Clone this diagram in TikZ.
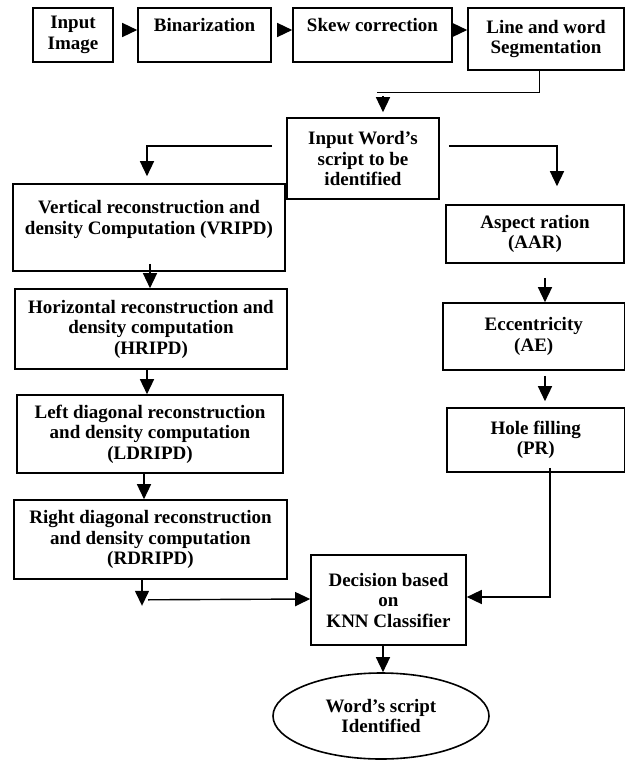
\documentclass[tikz,border=0pt]{standalone}
\usepackage{fontspec}
\setmainfont{Liberation Serif}
\usetikzlibrary{arrows.meta,shapes.geometric}

\begin{document}
\begin{tikzpicture}[x=1pt,y=1pt]
\tikzstyle{every node}+=[inner sep=0pt]
\tikzstyle{blk}=[draw, line width=1.6pt, align=center, font=\fontsize{19}{20.5}\selectfont\bfseries]
\tikzstyle{lin}=[line width=1.4pt]
\tikzstyle{arr}=[line width=1.4pt, -{Triangle[length=15pt,width=14pt]}]
\useasboundingbox (0,0) rectangle (626,-760);
% top row
\draw (73,-35) node [blk, minimum width=80, minimum height=54] (inimg) {Input\\Image};
\draw (204.5,-35) node [blk, minimum width=133, minimum height=54] (binar) {Binarization\\~};
\draw (372.5,-35) node [blk, minimum width=159, minimum height=54] (skew) {Skew correction\\~};
\draw (546,-39) node [blk, minimum width=156, minimum height=62] (lineseg) {Line and word\\Segmentation};
\draw (363,-158.5) node [blk, minimum width=152, minimum height=81] (inword) {Input Word's\\script to be\\identified};
% left column
\draw (149,-227.5) node [blk, minimum width=272, minimum height=87] (vert) {Vertical reconstruction and\\density Computation (VRIPD)\\~};
\draw (151,-329) node [blk, minimum width=272, minimum height=80] (horiz) {Horizontal reconstruction and\\density computation\\(HRIPD)};
\draw (150,-434) node [blk, minimum width=266, minimum height=78] (ldiag) {Left diagonal reconstruction\\and density computation\\(LDRIPD)};
\draw (150.5,-539.5) node [blk, minimum width=273, minimum height=79] (rdiag) {Right diagonal reconstruction\\and density computation\\(RDRIPD)};
% right column
\draw (535,-234) node [blk, minimum width=178, minimum height=58] (aspect) {Aspect ration\\(AAR)};
\draw (533.75,-336.5) node [blk, minimum width=181.5, minimum height=67] (eccen) {Eccentricity\\(AE)};
\draw (535.75,-440) node [blk, minimum width=177.5, minimum height=64] (hole) {Hole filling\\(PR)};
% classifier and result
\draw (388.5,-600) node [blk, minimum width=155, minimum height=90] (decis) {Decision based\\on\\KNN Classifier};
\draw (381,-716) node [blk, ellipse, minimum width=216, minimum height=86] (ident) {Word's script\\Identified};

\draw [arr] ([xshift=-15,yshift=5]binar.west) -- ([yshift=5]binar.west);
\draw [arr] ([xshift=-15,yshift=5]skew.west) -- ([yshift=5]skew.west);
\draw [arr] ([xshift=-15,yshift=9]lineseg.west) -- ([yshift=9]lineseg.west);

\draw [lin] ([xshift=-6.5]lineseg.south) |- ([xshift=14,yshift=25]inword.north);
\draw [arr] ([xshift=20,yshift=21]inword.north) -- ([xshift=20,yshift=5]inword.north);

\draw [arr] ([xshift=-14,yshift=12.5]inword.west) -| ([xshift=-2,yshift=7]vert.north);
\draw [arr] ([xshift=9,yshift=12.5]inword.east) -| ([xshift=22,yshift=18]aspect.north);

\draw [arr] ([xshift=1,yshift=8]vert.south) -- ([xshift=-1]horiz.north);
\draw [arr] ([xshift=-4]horiz.south) -- ([xshift=-3]ldiag.north);
\draw [arr] ([xshift=-6]ldiag.south) -- ([xshift=-6.5]rdiag.north);
\draw [arr] ([xshift=-8.5]rdiag.south) -- ([xshift=-8.5,yshift=-26]rdiag.south) coordinate (rdend);
\draw [arr] ([xshift=6,yshift=6]rdend) -- ([yshift=1]decis.west);

\draw [arr] ([xshift=10,yshift=-14]aspect.south) -- ([xshift=11.25]eccen.north);
\draw [arr] ([xshift=11.25,yshift=-5]eccen.south) -- ([xshift=9.25,yshift=6]hole.north);
\draw [arr] ([xshift=14.25,yshift=5]hole.south) |- ([yshift=3]decis.east);

\draw [arr] ([xshift=-5.5]decis.south) -- ([xshift=2]ident.north);
\end{tikzpicture}
\end{document}
